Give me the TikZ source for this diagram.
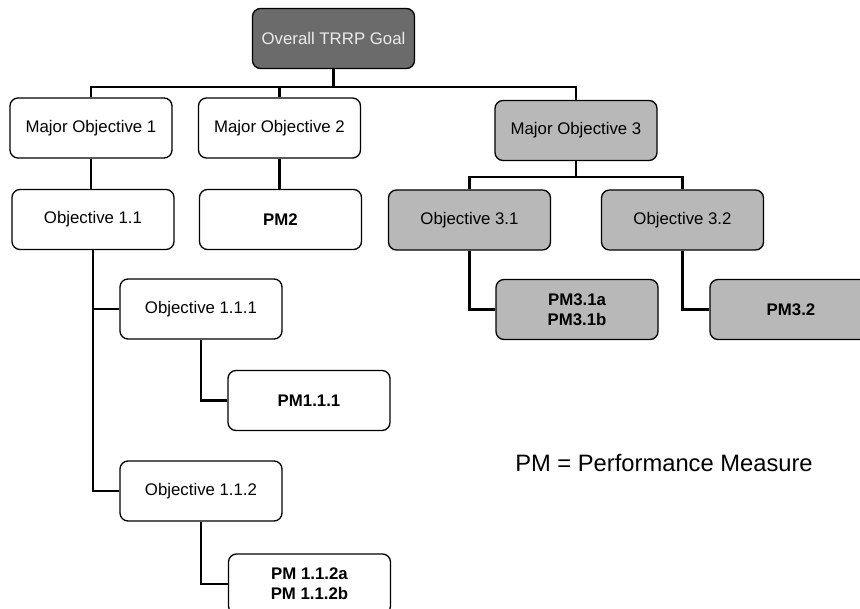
\documentclass[tikz,border=0pt]{standalone}
\usepackage{fontspec}
\setmainfont{Liberation Sans}
\usepackage{tikz}
\usepackage{xcolor}
\usetikzlibrary{positioning}

\begin{document}
\begin{tikzpicture}[x=0.75pt, y=-0.75pt,
			objbox/.style={draw, rounded corners=6pt, line width=1pt, fill=white,
				minimum width=121.5pt, minimum height=45pt, align=center,
				font=\fontsize{12.6}{15}\selectfont},
			pmbox/.style={objbox, font=\fontsize{12.6}{15}\selectfont\bfseries},
			shaded/.style={fill=black!28},
			dark/.style={fill=black!58, text=black!8},
			link/.style={line width=1.8pt}]
			\useasboundingbox[fill=white] (0,0) rectangle (860,609);
			% top level
			\node[objbox, dark] (goal) at (333.5,38.5) {Overall TRRP Goal};
			\node[objbox] (mobj1) at (91,128) {Major Objective 1};
			\node[objbox] (mobj2) at (279.5,128) {Major Objective 2};
			\node[objbox, shaded] (mobj3) at (576,130.5) {Major Objective 3};
			% second level
			\node[objbox] (obj11) at (93,219.5) {Objective 1.1};
			\node[pmbox] (pm2) at (280.5,219.5) {PM2};
			\node[objbox, shaded] (obj31) at (469.5,220) {Objective 3.1};
			\node[objbox, shaded] (obj32) at (682.5,220) {Objective 3.2};
			% third level
			\node[objbox] (obj111) at (201,309) {Objective 1.1.1};
			\node[pmbox, shaded] (pm31) at (577,309.5) {PM3.1a\\PM3.1b};
			\node[pmbox, shaded] (pm32) at (791,309.5) {PM3.2};
			\node[pmbox] (pm111) at (309,400.5) {PM1.1.1};
			\node[objbox] (obj112) at (201,491) {Objective 1.1.2};
			\node[pmbox] (pm112) at (309.5,584) {PM 1.1.2a\\PM 1.1.2b};
			\node[font=\fontsize{17.8}{20}\selectfont] (legend) at (664,463) {PM = Performance Measure};
			% connectors
			\coordinate (bus1) at (0,87);
			\coordinate (bus3) at (0,177);
			\draw[link] (goal.south) -- (goal.south |- bus1);
			\draw[link] (mobj1.north) -- (mobj1.north |- bus1) -| (mobj3.north);
			\draw[link] (mobj2.north) -- (mobj2.north |- bus1);
			\draw[link] (mobj1.south) -- (mobj1.south |- obj11.north);
			\draw[link] (mobj2.south) -- (mobj2.south |- pm2.north);
			\draw[link] (mobj3.south) -- (mobj3.south |- bus3);
			\draw[link] (obj31.north) -- (obj31.north |- bus3) -| (obj32.north);
			\draw[link] (obj11.south) |- (obj111.west);
			\draw[link] (obj11.south) |- (obj112.west);
			\draw[link] (obj111.south) |- (pm111.west);
			\draw[link] (obj112.south) |- (pm112.west);
			\draw[link] (obj31.south) |- (pm31.west);
			\draw[link] (obj32.south) |- (pm32.west);
		\end{tikzpicture}
\end{document}
